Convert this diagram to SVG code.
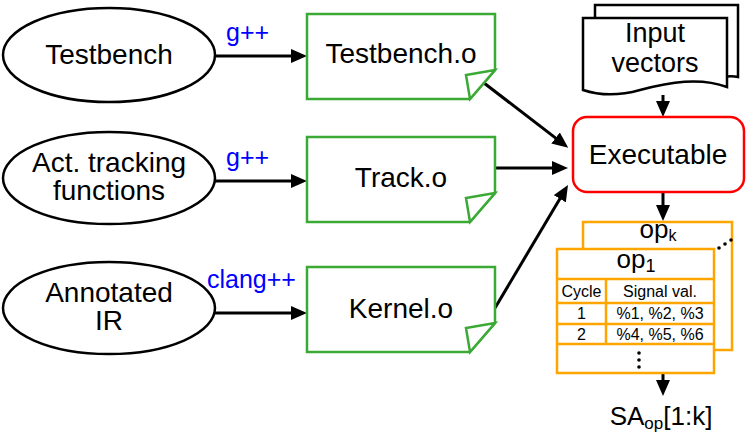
<svg xmlns="http://www.w3.org/2000/svg" width="746" height="434" viewBox="0 0 746 434">
<style>
text{font-family:"Liberation Sans",Arial,sans-serif;fill:#000}
.t{font-size:28px;text-anchor:middle}
.lbl{font-size:25px;fill:#0000ff}
.ell{fill:#fff;stroke:#000;stroke-width:2.5}
.obj{fill:#fff;stroke:#3aaa35;stroke-width:2.5;stroke-linejoin:miter}
.doc{fill:#fff;stroke:#000;stroke-width:2.5}
.tbl{fill:#fff;stroke:#ffa500;stroke-width:2.5}
.grid{stroke:#ffa500;stroke-width:2.5;fill:none}
.sm{font-size:16px;text-anchor:middle}
.c{stroke:#000;stroke-width:3;fill:none;marker-end:url(#ah)}
</style>
<defs>
<marker id="ah" markerUnits="userSpaceOnUse" markerWidth="16" markerHeight="14" viewBox="0 0 16 14" refX="8" refY="7" orient="auto">
<path d="M0,0 L16,7 L0,14 Z" fill="#000"/>
</marker>
</defs>

<g id="connectors">
<line class="c" x1="215" y1="56" x2="299" y2="56"/>
<line class="c" x1="215" y1="181" x2="299" y2="181"/>
<line class="c" x1="215" y1="313" x2="299" y2="313"/>
<line class="c" x1="484" y1="83" x2="561.9" y2="142.9"/>
<line class="c" x1="495" y1="168" x2="560" y2="168"/>
<line class="c" x1="495" y1="308" x2="563.9" y2="191.9"/>
<line class="c" x1="663" y1="95" x2="663" y2="109"/>
<line class="c" x1="663" y1="192" x2="663" y2="213"/>
<line class="c" x1="663" y1="373" x2="663" y2="388"/>
</g>
<g id="labels">
<text class="lbl" x="226" y="41">g++</text>
<text class="lbl" x="226" y="166">g++</text>
<text class="lbl" x="207" y="288">clang++</text>
</g>

<g id="testbench">
<ellipse class="ell" cx="109" cy="55" rx="106" ry="47"/>
<text class="t" x="109" y="64">Testbench</text>
</g>
<g id="acttracking">
<ellipse class="ell" cx="109" cy="178" rx="106" ry="46"/>
<text class="t" x="109" y="172">Act. tracking</text>
<text class="t" x="109" y="200">functions</text>
</g>
<g id="annotated">
<ellipse class="ell" cx="109" cy="308" rx="106" ry="46"/>
<text class="t" x="109" y="302">Annotated</text>
<text class="t" x="109" y="330">IR</text>
</g>

<g id="testbench_o">
<path class="obj" d="M307,14 H495 V70 L470,99 H307 Z"/>
<path class="obj" d="M495,70 L466,75 L470,99 Z"/>
<text class="t" x="401" y="63">Testbench.o</text>
</g>
<g id="track_o">
<path class="obj" d="M307,137 H495 V193 L470,222 H307 Z"/>
<path class="obj" d="M495,193 L466,198 L470,222 Z"/>
<text class="t" x="401" y="187">Track.o</text>
</g>
<g id="kernel_o">
<path class="obj" d="M307,267 H495 V323 L470,352 H307 Z"/>
<path class="obj" d="M495,323 L466,328 L470,352 Z"/>
<text class="t" x="401" y="318">Kernel.o</text>
</g>

<g id="inputvectors">
<path class="doc" d="M595,18 V5 H738 V77 C734,76 730,76 727,76.5"/>
<path class="doc" d="M583,18 H727 V87 C700,77 670,82 640,90 C615,97 598,95 583,90 Z"/>
<text class="t" x="655" y="42" font-size="27" style="font-size:27px">Input</text>
<text class="t" x="655" y="72" style="font-size:27px">vectors</text>
</g>

<g id="executable">
<rect x="573" y="117" width="171" height="75" rx="14" fill="#fff" stroke="#ff0000" stroke-width="2.5"/>
<text class="t" x="658" y="164">Executable</text>
</g>

<g id="optable">
<rect class="tbl" x="583" y="222" width="149" height="128"/>
<text x="658" y="238" text-anchor="middle" font-size="26">op<tspan font-size="16" dy="3">k</tspan></text>
<circle cx="719" cy="248" r="1.8"/>
<circle cx="725" cy="244" r="1.8"/>
<circle cx="731" cy="240" r="1.8"/>
<rect class="tbl" x="557" y="249" width="157" height="124"/>
<path class="grid" d="M557,279 H714 M557,303 H714 M557,324 H714 M557,344 H714 M606,279 V344"/>
<text x="636" y="268" text-anchor="middle" font-size="26">op<tspan font-size="18" dy="4">1</tspan></text>
<text class="sm" x="581.5" y="297">Cycle</text>
<text class="sm" x="660" y="297">Signal val.</text>
<text class="sm" x="581.5" y="319">1</text>
<text class="sm" x="660" y="319">%1, %2, %3</text>
<text class="sm" x="581.5" y="340">2</text>
<text class="sm" x="660" y="340">%4, %5, %6</text>
<circle cx="639" cy="353" r="1.8"/>
<circle cx="639" cy="360" r="1.8"/>
<circle cx="639" cy="367" r="1.8"/>
</g>

<g id="sa">
<text x="661" y="425" text-anchor="middle" font-size="26">SA<tspan font-size="17" dy="4">op</tspan><tspan dy="-4">[1:k]</tspan></text>
</g>
</svg>
